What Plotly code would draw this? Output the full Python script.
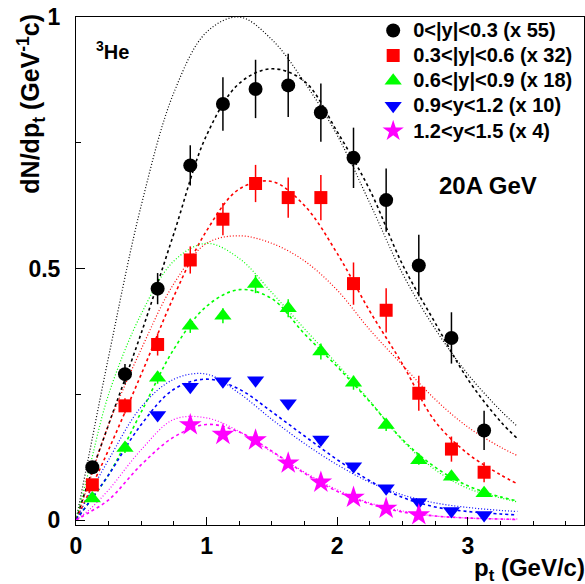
import plotly.graph_objects as go

# ---------------- data points ----------------
pt = [0.125, 0.375, 0.625, 0.875, 1.125, 1.375, 1.625, 1.875, 2.125, 2.375, 2.625, 2.875, 3.125]

y0_vals = [0.105, 0.29, 0.46, 0.705, 0.827, 0.857, 0.864, 0.81, 0.72, 0.636, 0.506, 0.362, 0.178]
y0_errs = [0.012, 0.02, 0.031, 0.04, 0.053, 0.058, 0.063, 0.058, 0.06, 0.063, 0.061, 0.051, 0.039]

y1_vals = [0.07, 0.227, 0.349, 0.517, 0.598, 0.669, 0.641, 0.641, 0.47, 0.417, 0.252, 0.141, 0.095]
y1_errs = [0.01, 0.015, 0.022, 0.027, 0.032, 0.037, 0.04, 0.045, 0.042, 0.044, 0.035, 0.025, 0.02]

y2_vals = [0.043, 0.143, 0.283, 0.386, 0.406, 0.469, 0.421, 0.335, 0.273, 0.189, 0.119, 0.086, 0.053]
y2_errs = [0.006, 0.01, 0.012, 0.014, 0.015, 0.018, 0.018, 0.016, 0.014, 0.012, 0.009, 0.008, 0.006]

pt3 = [0.625, 0.875, 1.125, 1.375, 1.625, 1.875, 2.125, 2.375, 2.625, 2.875, 3.125]
y3_vals = [0.209, 0.265, 0.276, 0.278, 0.232, 0.160, 0.107, 0.063, 0.036, 0.018, 0.010]

pt4 = [0.875, 1.125, 1.375, 1.625, 1.875, 2.125, 2.375, 2.625]
y4_vals = [0.189, 0.170, 0.159, 0.113, 0.075, 0.045, 0.023, 0.010]

# ---------------- curves ----------------
cx = [0.0, 0.1, 0.25, 0.5, 0.75, 1.0, 1.25, 1.5, 1.75, 2.0, 2.25, 2.5, 2.75, 3.0, 3.25, 3.38]

c0_fit = [0.0, 0.08, 0.19, 0.372, 0.57, 0.765, 0.868, 0.897, 0.872, 0.772, 0.656, 0.508, 0.392, 0.28, 0.196, 0.162]
c0_mod = [0.0, 0.13, 0.325, 0.626, 0.85, 0.97, 1.0, 0.955, 0.87, 0.765, 0.63, 0.49, 0.38, 0.29, 0.218, 0.186]

c1_fit = [0.0, 0.055, 0.14, 0.29, 0.445, 0.575, 0.658, 0.673, 0.625, 0.53, 0.415, 0.31, 0.196, 0.132, 0.09, 0.072]
c1_mod = [0.0, 0.075, 0.19, 0.34, 0.47, 0.55, 0.565, 0.55, 0.515, 0.457, 0.378, 0.308, 0.24, 0.185, 0.145, 0.128]

c2_fit = [0.0, 0.035, 0.09, 0.215, 0.34, 0.425, 0.458, 0.44, 0.37, 0.305, 0.235, 0.16, 0.105, 0.068, 0.046, 0.038]
c2_mod = [0.0, 0.1, 0.25, 0.41, 0.515, 0.55, 0.52, 0.452, 0.38, 0.31, 0.237, 0.158, 0.1, 0.063, 0.044, 0.036]

c3_fit = [0.0, 0.035, 0.09, 0.19, 0.26, 0.28, 0.26, 0.215, 0.167, 0.12, 0.078, 0.045, 0.026, 0.017, 0.012, 0.01]
c3_mod = [0.0, 0.05, 0.12, 0.225, 0.28, 0.29, 0.252, 0.2, 0.152, 0.11, 0.075, 0.05, 0.034, 0.025, 0.019, 0.017]

c4_fit = [0.0, 0.015, 0.04, 0.11, 0.165, 0.19, 0.175, 0.137, 0.093, 0.057, 0.032, 0.016, 0.008, 0.004, 0.002, 0.001]
c4_mod = [0.0, 0.02, 0.06, 0.14, 0.2, 0.203, 0.176, 0.135, 0.095, 0.06, 0.034, 0.018, 0.008, 0.004, 0.002, 0.002]

labels = ["0<|y|<0.3 (x 55)", "0.3<|y|<0.6 (x 32)", "0.6<|y|<0.9 (x 18)",
          "0.9<y<1.2 (x 10)", "1.2<y<1.5 (x 4)"]
colors = ["#000000", "#ff0000", "#00ff00", "#0000ff", "#ff00ff"]
symbols = ["circle", "square", "triangle-up", "triangle-down", "star"]

fig = go.Figure()

fits = [c0_fit, c1_fit, c2_fit, c3_fit, c4_fit]
mods = [c0_mod, c1_mod, c2_mod, c3_mod, c4_mod]
for i in range(5):
    fig.add_trace(go.Scatter(x=cx, y=mods[i], mode="lines", line_shape="spline",
                             line=dict(color=colors[i], width=1.2, dash="1px,2px"),
                             showlegend=False, hoverinfo="skip"))
    fig.add_trace(go.Scatter(x=cx, y=fits[i], mode="lines", line_shape="spline",
                             line=dict(color=colors[i], width=1.6, dash="3px,3px"),
                             showlegend=False, hoverinfo="skip"))

series = [
    (pt, y0_vals, y0_errs),
    (pt, y1_vals, y1_errs),
    (pt, y2_vals, y2_errs),
    (pt3, y3_vals, None),
    (pt4, y4_vals, None),
]
sizes = [14, 13, 15, 15, 17]
for i, (xs, ys, es) in enumerate(series):
    kw = {}
    if es is not None:
        kw["error_y"] = dict(type="data", array=es, visible=True, color=colors[i],
                             thickness=1.5, width=0)
    fig.add_trace(go.Scatter(x=xs, y=ys, mode="markers",
                             name='<span style="font-size:20px">' + labels[i] + '</span>',
                             marker=dict(color=colors[i], symbol=symbols[i], size=sizes[i],
                                         line=dict(width=0)),
                             **kw))

font_fam = "Liberation Sans, Arial, sans-serif"

fig.update_layout(
    width=585, height=584,
    margin=dict(l=76, r=1, t=17, b=59, autoexpand=False),
    paper_bgcolor="white", plot_bgcolor="white",
    font=dict(family=font_fam, color="black"),
    showlegend=True,
    legend=dict(x=0.585, y=1.008, xanchor="left", yanchor="top",
                bgcolor="rgba(0,0,0,0)", borderwidth=0,
                font=dict(size=17, family=font_fam, color="black", weight="bold"),
                itemwidth=30, tracegroupgap=0),
    xaxis=dict(range=[0, 3.89], showgrid=False, zeroline=False, automargin=False,
               showline=True, linecolor="black", linewidth=1, mirror=True,
               ticks="inside", ticklen=8, tickwidth=1, tickcolor="black",
               tickvals=[0, 1, 2, 3], ticktext=["0", "1", "2", "3"],
               tickfont=dict(size=23, family=font_fam, weight="bold"),
               ticklabelstandoff=0,
               minor=dict(ticks="inside", ticklen=4, tickwidth=1, tickcolor="black", dtick=0.25,
                          showgrid=False)),
    yaxis=dict(range=[-0.0099, 1.0], showgrid=False, zeroline=False, automargin=False,
               showline=True, linecolor="black", linewidth=1, mirror=True,
               ticks="inside", ticklen=9, tickwidth=1, tickcolor="black",
               tickvals=[0, 0.5, 1], ticktext=["0", "0.5", "1"],
               tickfont=dict(size=23, family=font_fam, weight="bold"),
               ticklabelstandoff=10,
               minor=dict(ticks="inside", ticklen=5, tickwidth=1, tickcolor="black", dtick=0.25,
                          showgrid=False)),
)

fig.add_annotation(xref="paper", yref="paper", x=-0.089, y=0.829,
                   text="dN/dp<sub>t</sub> (GeV<sup>-1</sup>c)", textangle=-90,
                   showarrow=False, xanchor="center", yanchor="middle",
                   font=dict(size=25, family=font_fam, weight="bold"))
fig.add_annotation(xref="paper", yref="paper", x=1.005, y=-0.088,
                   text="p<sub>t</sub> (GeV/c)", showarrow=False,
                   xanchor="right", yanchor="middle",
                   font=dict(size=24, family=font_fam, weight="bold"))
fig.add_annotation(xref="paper", yref="paper", x=0.036, y=0.935,
                   text="<sup>3</sup>He", showarrow=False,
                   xanchor="left", yanchor="middle",
                   font=dict(size=20, family=font_fam, weight="bold"))
fig.add_annotation(xref="paper", yref="paper", x=0.812, y=0.668,
                   text="20A GeV", showarrow=False,
                   xanchor="center", yanchor="middle",
                   font=dict(size=24, family=font_fam, weight="bold"))

fig.write_html("out.html", config={"displayModeBar": False},
               post_script="document.body.style.margin='0';document.body.style.padding='0';")
